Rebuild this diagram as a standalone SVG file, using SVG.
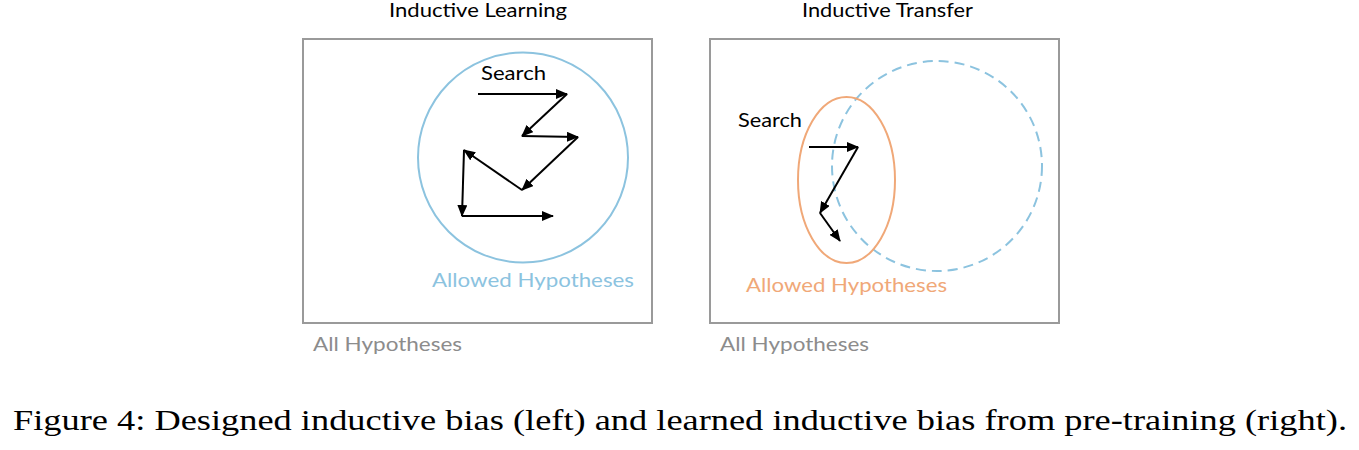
<svg xmlns="http://www.w3.org/2000/svg" width="1359" height="450" viewBox="0 0 1359 450">
<style>
.box{fill:none;stroke:#9a9a9a;stroke-width:2}
.lbl{font-family:Lato,"Open Sans","DejaVu Sans",sans-serif;font-size:20px}
.title{font-family:Lato,"Open Sans","DejaVu Sans",sans-serif;font-size:19px;fill:#000}
.all{fill:#8c8c8c}
.arr{fill:none;stroke:#000;stroke-width:2;marker-end:url(#ah)}
.cap{font-family:"Liberation Serif","DejaVu Serif",serif;font-size:30px;fill:#000}
</style>
<defs>
<marker id="ah" viewBox="0 0 12 10" refX="11" refY="5" markerWidth="12" markerHeight="10" markerUnits="userSpaceOnUse" orient="auto">
<path d="M0,0 L12,5 L0,10 Z" fill="#000"/>
</marker>
</defs>
<g id="left-panel">
<text class="title" x="478" y="17" text-anchor="middle" textLength="178" lengthAdjust="spacingAndGlyphs">Inductive Learning</text>
<rect class="box" x="303" y="39" width="349" height="284"/>
<text class="lbl all" x="313" y="351" textLength="149" lengthAdjust="spacingAndGlyphs">All Hypotheses</text>
</g>
<g id="left-allowed">
<circle cx="523" cy="157.5" r="105" fill="none" stroke="#8cc3df" stroke-width="2"/>
<text class="lbl" x="432" y="287" fill="#8cc3df" textLength="202" lengthAdjust="spacingAndGlyphs">Allowed Hypotheses</text>
</g>
<g id="left-search">
<text class="lbl" x="481" y="80" fill="#000" textLength="65" lengthAdjust="spacingAndGlyphs">Search</text>
</g>
<g id="right-panel">
<text class="title" x="887.5" y="17" text-anchor="middle" textLength="171" lengthAdjust="spacingAndGlyphs">Inductive Transfer</text>
<rect class="box" x="710" y="39" width="349" height="284"/>
<text class="lbl all" x="720" y="351" textLength="149" lengthAdjust="spacingAndGlyphs">All Hypotheses</text>
</g>
<g id="right-pretrained">
<circle cx="937" cy="166" r="105" fill="none" stroke="#8cc3df" stroke-width="2" stroke-dasharray="10,6"/>
</g>
<g id="right-allowed">
<ellipse cx="846.5" cy="180" rx="48.5" ry="83" fill="none" stroke="#f0a878" stroke-width="2"/>
<text class="lbl" x="746" y="292" fill="#f0a878" textLength="201" lengthAdjust="spacingAndGlyphs">Allowed Hypotheses</text>
</g>
<g id="right-search">
<text class="lbl" x="738" y="127" fill="#000" textLength="64" lengthAdjust="spacingAndGlyphs">Search</text>
</g>
<g id="connectors">
<line class="arr" x1="478" y1="94" x2="567" y2="94"/>
<line class="arr" x1="567" y1="94" x2="522" y2="136"/>
<line class="arr" x1="522" y1="136" x2="578" y2="137"/>
<line class="arr" x1="578" y1="137" x2="522" y2="190"/>
<line class="arr" x1="522" y1="190" x2="464" y2="150"/>
<line class="arr" x1="464" y1="150" x2="462" y2="216"/>
<line class="arr" x1="462" y1="216" x2="553" y2="216"/>
<line class="arr" x1="809" y1="147" x2="858" y2="147"/>
<line class="arr" x1="858" y1="147" x2="820" y2="213"/>
<line class="arr" x1="820" y1="213" x2="840" y2="241"/>
</g>
<text class="cap" x="13" y="430" textLength="1334" lengthAdjust="spacingAndGlyphs">Figure 4: Designed inductive bias (left) and learned inductive bias from pre-training (right).</text>
</svg>
